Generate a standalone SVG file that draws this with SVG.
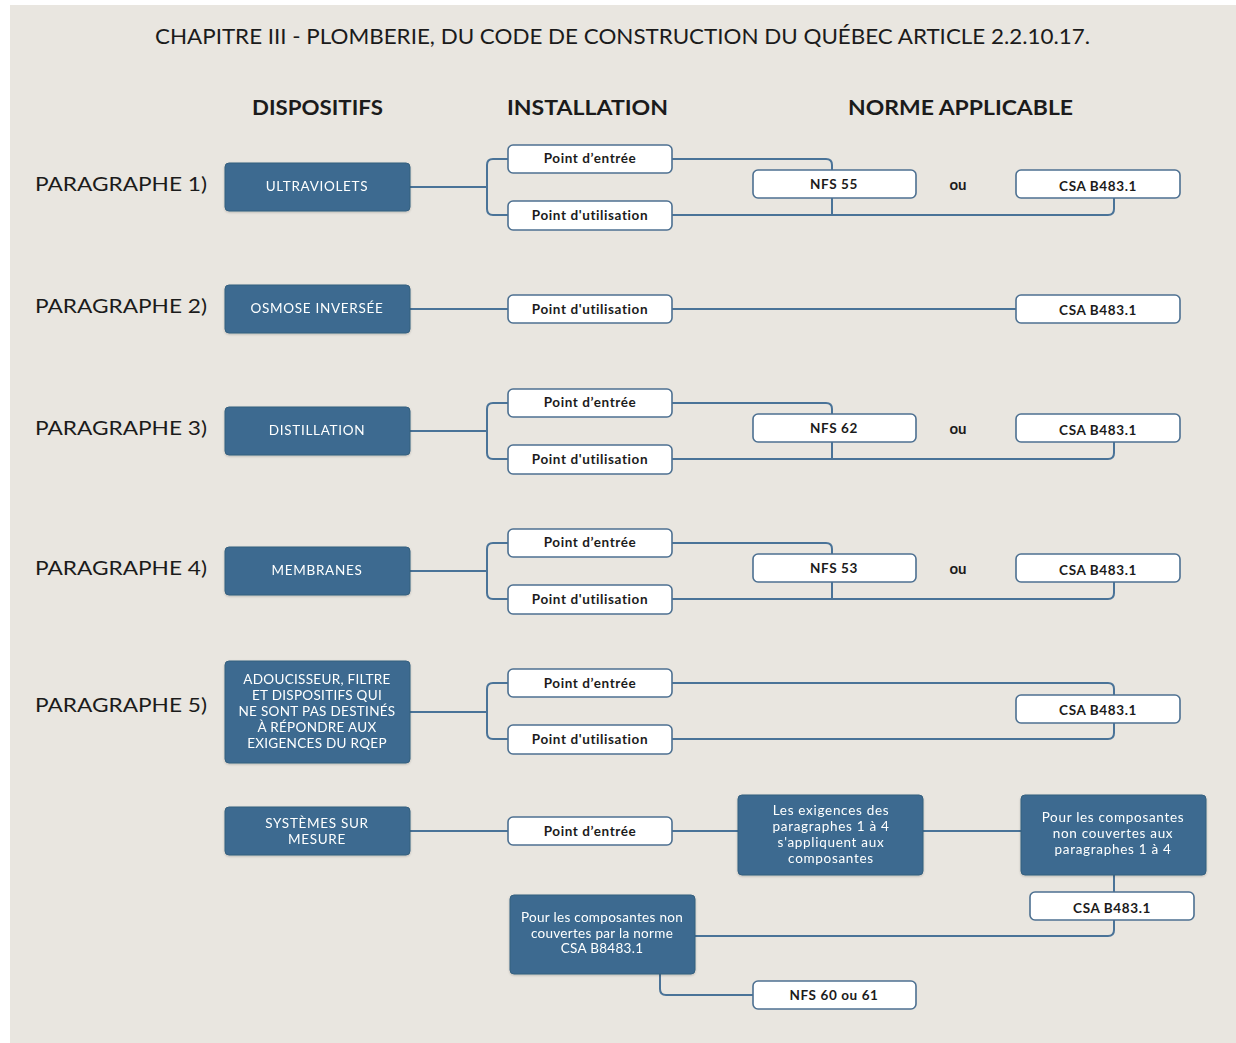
<svg xmlns="http://www.w3.org/2000/svg" width="1236" height="1043" viewBox="0 0 1236 1043">
<defs>
<style>
.bg{fill:#e9e6e0}
.dk{fill:#3c6b90;stroke:#34607f;stroke-width:1}
.wb{fill:#ffffff;stroke:#4d7091;stroke-width:1.6}
.ln{fill:none;stroke:#4a7398;stroke-width:2}
.t{font-family:Lato,"Open Sans","Liberation Sans",sans-serif;fill:#1b1b1b}
.title{font-size:21px}
.hd{font-size:20px;font-weight:bold}
.pg{font-size:20px}
.dt{font-family:Lato,"Open Sans","Liberation Sans",sans-serif;fill:#ffffff;font-size:13.5px;letter-spacing:0.7px;text-anchor:middle}
.wt{font-family:Lato,"Open Sans","Liberation Sans",sans-serif;fill:#1b1b1b;font-size:13.5px;letter-spacing:0.6px;font-weight:bold;text-anchor:middle}
.ou{font-family:Lato,"Open Sans","Liberation Sans",sans-serif;fill:#1b1b1b;font-size:15px;font-weight:bold;text-anchor:middle}
</style>
<filter id="sh" x="-10%" y="-10%" width="120%" height="130%"><feDropShadow dx="0" dy="1" stdDeviation="1" flood-color="#000" flood-opacity="0.2"/></filter>
</defs>
<rect x="0" y="0" width="1236" height="1043" fill="#ffffff"/>
<rect class="bg" x="10" y="5" width="1226" height="1038"/>

<text class="t title" x="155" y="44" textLength="935" lengthAdjust="spacingAndGlyphs">CHAPITRE III - PLOMBERIE, DU CODE DE CONSTRUCTION DU QUÉBEC ARTICLE 2.2.10.17.</text>
<text class="t hd" x="252" y="115" textLength="131" lengthAdjust="spacingAndGlyphs">DISPOSITIFS</text>
<text class="t hd" x="507" y="115" textLength="161" lengthAdjust="spacingAndGlyphs">INSTALLATION</text>
<text class="t hd" x="848" y="115" textLength="225" lengthAdjust="spacingAndGlyphs">NORME APPLICABLE</text>

<text class="t pg" x="35" y="191" textLength="172" lengthAdjust="spacingAndGlyphs">PARAGRAPHE 1)</text>
<text class="t pg" x="35" y="313" textLength="172" lengthAdjust="spacingAndGlyphs">PARAGRAPHE 2)</text>
<text class="t pg" x="35" y="435" textLength="172" lengthAdjust="spacingAndGlyphs">PARAGRAPHE 3)</text>
<text class="t pg" x="35" y="575" textLength="172" lengthAdjust="spacingAndGlyphs">PARAGRAPHE 4)</text>
<text class="t pg" x="35" y="712" textLength="172" lengthAdjust="spacingAndGlyphs">PARAGRAPHE 5)</text>

<g id="connectors">
<path class="ln" d="M410,187 H487 M508,159 H493 Q487,159 487,165 V209 Q487,215 493,215 H508"/>
<path class="ln" d="M672,159 H826 Q832,159 832,165 V215"/>
<path class="ln" d="M672,215 H1108 Q1114,215 1114,209 V198"/>
<path class="ln" d="M410,309 H508 M672,309 H1016"/>
<path class="ln" d="M410,431 H487 M508,403 H493 Q487,403 487,409 V453 Q487,459 493,459 H508"/>
<path class="ln" d="M672,403 H826 Q832,403 832,409 V459"/>
<path class="ln" d="M672,459 H1108 Q1114,459 1114,453 V442"/>
<path class="ln" d="M410,571 H487 M508,543 H493 Q487,543 487,549 V593 Q487,599 493,599 H508"/>
<path class="ln" d="M672,543 H826 Q832,543 832,549 V599"/>
<path class="ln" d="M672,599 H1108 Q1114,599 1114,593 V582"/>
<path class="ln" d="M410,712 H487 M508,683 H493 Q487,683 487,689 V733 Q487,739 493,739 H508"/>
<path class="ln" d="M672,683 H1108 Q1114,683 1114,689 V695"/>
<path class="ln" d="M672,739 H1108 Q1114,739 1114,733 V723"/>
<path class="ln" d="M410,831 H508 M672,831 H738 M923,831 H1021 M1114,875 V892"/>
<path class="ln" d="M1114,920 V930 Q1114,936 1108,936 H695"/>
<path class="ln" d="M660,974 V989 Q660,995 666,995 H753"/>
</g>

<g id="n-uv" filter="url(#sh)"><rect class="dk" x="225" y="163" width="185" height="48" rx="4"/><text class="dt" x="317" y="191">ULTRAVIOLETS</text></g>
<g id="n-p1e"><rect class="wb" x="508" y="145" width="164" height="28" rx="5"/><text class="wt" x="590" y="163">Point d’entrée</text></g>
<g id="n-p1u"><rect class="wb" x="508" y="201" width="164" height="29" rx="5"/><text class="wt" x="590" y="220">Point d'utilisation</text></g>
<g id="n-nfs55"><rect class="wb" x="753" y="170" width="163" height="28" rx="5"/><text class="wt" x="834" y="189">NFS 55</text></g>
<text class="ou" x="958" y="190">ou</text>
<g id="n-csa1"><rect class="wb" x="1016" y="170" width="164" height="28" rx="5"/><text class="wt" x="1098" y="191">CSA B483.1</text></g>

<g id="n-osm" filter="url(#sh)"><rect class="dk" x="225" y="285" width="185" height="48" rx="4"/><text class="dt" x="317" y="313">OSMOSE INVERSÉE</text></g>
<g id="n-p2u"><rect class="wb" x="508" y="295" width="164" height="28" rx="5"/><text class="wt" x="590" y="314">Point d'utilisation</text></g>
<g id="n-csa2"><rect class="wb" x="1016" y="295" width="164" height="28" rx="5"/><text class="wt" x="1098" y="315">CSA B483.1</text></g>

<g id="n-dist" filter="url(#sh)"><rect class="dk" x="225" y="407" width="185" height="48" rx="4"/><text class="dt" x="317" y="435">DISTILLATION</text></g>
<g id="n-p3e"><rect class="wb" x="508" y="389" width="164" height="28" rx="5"/><text class="wt" x="590" y="407">Point d’entrée</text></g>
<g id="n-p3u"><rect class="wb" x="508" y="445" width="164" height="29" rx="5"/><text class="wt" x="590" y="464">Point d'utilisation</text></g>
<g id="n-nfs62"><rect class="wb" x="753" y="414" width="163" height="28" rx="5"/><text class="wt" x="834" y="433">NFS 62</text></g>
<text class="ou" x="958" y="434">ou</text>
<g id="n-csa3"><rect class="wb" x="1016" y="414" width="164" height="28" rx="5"/><text class="wt" x="1098" y="435">CSA B483.1</text></g>

<g id="n-mem" filter="url(#sh)"><rect class="dk" x="225" y="547" width="185" height="48" rx="4"/><text class="dt" x="317" y="575">MEMBRANES</text></g>
<g id="n-p4e"><rect class="wb" x="508" y="529" width="164" height="28" rx="5"/><text class="wt" x="590" y="547">Point d’entrée</text></g>
<g id="n-p4u"><rect class="wb" x="508" y="585" width="164" height="29" rx="5"/><text class="wt" x="590" y="604">Point d'utilisation</text></g>
<g id="n-nfs53"><rect class="wb" x="753" y="554" width="163" height="28" rx="5"/><text class="wt" x="834" y="573">NFS 53</text></g>
<text class="ou" x="958" y="574">ou</text>
<g id="n-csa4"><rect class="wb" x="1016" y="554" width="164" height="28" rx="5"/><text class="wt" x="1098" y="575">CSA B483.1</text></g>

<g id="n-adou" filter="url(#sh)"><rect class="dk" x="225" y="661" width="185" height="102" rx="4"/>
<text class="dt" x="317" y="684" style="letter-spacing:0.3px">ADOUCISSEUR, FILTRE</text>
<text class="dt" x="317" y="700" style="letter-spacing:0.3px">ET DISPOSITIFS QUI</text>
<text class="dt" x="317" y="716" style="letter-spacing:0.3px">NE SONT PAS DESTINÉS</text>
<text class="dt" x="317" y="732" style="letter-spacing:0.3px">À RÉPONDRE AUX</text>
<text class="dt" x="317" y="748" style="letter-spacing:0.3px">EXIGENCES DU RQEP</text></g>
<g id="n-p5e"><rect class="wb" x="508" y="669" width="164" height="28" rx="5"/><text class="wt" x="590" y="688">Point d’entrée</text></g>
<g id="n-p5u"><rect class="wb" x="508" y="725" width="164" height="29" rx="5"/><text class="wt" x="590" y="744">Point d'utilisation</text></g>
<g id="n-csa5"><rect class="wb" x="1016" y="695" width="164" height="28" rx="5"/><text class="wt" x="1098" y="715">CSA B483.1</text></g>

<g id="n-sys" filter="url(#sh)"><rect class="dk" x="225" y="807" width="185" height="48" rx="4"/>
<text class="dt" x="317" y="828">SYSTÈMES SUR</text>
<text class="dt" x="317" y="844">MESURE</text></g>
<g id="n-p6e"><rect class="wb" x="508" y="817" width="164" height="28" rx="5"/><text class="wt" x="590" y="836">Point d’entrée</text></g>
<g id="n-exig" filter="url(#sh)"><rect class="dk" x="738" y="795" width="185" height="80" rx="4"/>
<text class="dt" x="831" y="815">Les exigences des</text>
<text class="dt" x="831" y="831">paragraphes 1 à 4</text>
<text class="dt" x="831" y="847">s'appliquent aux</text>
<text class="dt" x="831" y="863">composantes</text></g>
<g id="n-pour1" filter="url(#sh)"><rect class="dk" x="1021" y="795" width="185" height="80" rx="4"/>
<text class="dt" x="1113" y="822">Pour les composantes</text>
<text class="dt" x="1113" y="838">non couvertes aux</text>
<text class="dt" x="1113" y="854">paragraphes 1 à 4</text></g>
<g id="n-csa6"><rect class="wb" x="1030" y="892" width="164" height="28" rx="5"/><text class="wt" x="1112" y="913">CSA B483.1</text></g>
<g id="n-pour2" filter="url(#sh)"><rect class="dk" x="510" y="895" width="185" height="79" rx="4"/>
<text class="dt" x="602" y="922" style="letter-spacing:0.3px">Pour les composantes non</text>
<text class="dt" x="602" y="938" style="letter-spacing:0.3px">couvertes par la norme</text>
<text class="dt" x="602" y="953" style="letter-spacing:0.3px">CSA B8483.1</text></g>
<g id="n-nfs60"><rect class="wb" x="753" y="981" width="163" height="28" rx="5"/><text class="wt" x="834" y="1000">NFS 60 ou 61</text></g>
</svg>
